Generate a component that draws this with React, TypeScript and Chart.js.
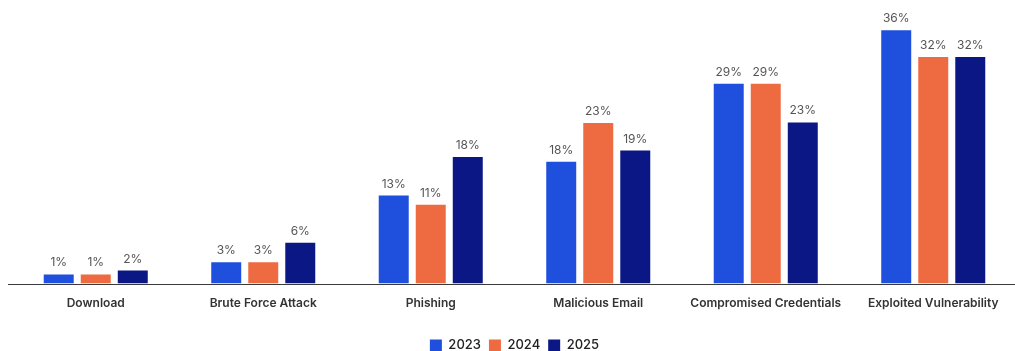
import React, { useEffect, useRef } from "react";
import { Chart, registerables } from "chart.js";

Chart.register(...registerables);

const categories = [
  "Download",
  "Brute Force Attack",
  "Phishing",
  "Malicious Email",
  "Compromised Credentials",
  "Exploited Vulnerability",
];
const seriesNames = ["2023", "2024", "2025"];
// bar heights (percent)
const values2023 = [1.3, 3.05, 12.5, 17.3, 28.4, 36];
const values2024 = [1.3, 3.05, 11.2, 22.8, 28.4, 32.2];
const values2025 = [1.85, 5.8, 18, 18.9, 22.9, 32.2];
// printed labels above the bars
const labels2023 = ["1%", "3%", "13%", "18%", "29%", "36%"];
const labels2024 = ["1%", "3%", "11%", "23%", "29%", "32%"];
const labels2025 = ["2%", "6%", "18%", "19%", "23%", "32%"];
const seriesColors = ["#1f4fdd", "#ee6a40", "#0b1784"];

const FONT = "Inter, 'Noto Sans', sans-serif";
const printedLabels = [labels2023, labels2024, labels2025];

const valueLabels = {
  id: "valueLabels",
  afterDatasetsDraw(chart: any) {
    const ctx = chart.ctx;
    ctx.save();
    ctx.font = `400 12px ${FONT}`;
    ctx.fillStyle = "#555555";
    ctx.textAlign = "center";
    ctx.textBaseline = "alphabetic";
    chart.data.datasets.forEach((_ds: any, i: number) => {
      const meta = chart.getDatasetMeta(i);
      meta.data.forEach((bar: any, j: number) => {
        ctx.fillText(printedLabels[i][j], bar.x, bar.y - 8);
      });
    });
    ctx.restore();
  },
};

const axisLine = {
  id: "axisLine",
  afterDatasetsDraw(chart: any) {
    const ctx = chart.ctx;
    const y = chart.scales.y.getPixelForValue(0);
    ctx.save();
    ctx.strokeStyle = "#3a3a3a";
    ctx.lineWidth = 1;
    ctx.beginPath();
    ctx.moveTo(8, Math.round(y) + 0.5);
    ctx.lineTo(chart.width, Math.round(y) + 0.5);
    ctx.stroke();
    ctx.restore();
  },
};

export default function App() {
  const ref = useRef<HTMLCanvasElement | null>(null);
  useEffect(() => {
    document.body.style.margin = "0";
    const canvas = ref.current!;
    const chart = new Chart(canvas, {
      type: "bar",
      data: {
        labels: categories,
        datasets: [values2023, values2024, values2025].map((d, i) => ({
          label: seriesNames[i],
          data: d,
          backgroundColor: seriesColors[i],
          categoryPercentage: 0.663,
          barPercentage: 0.81,
        })),
      },
      options: {
        responsive: false,
        animation: false,
        devicePixelRatio: 1,
        layout: { padding: { left: 12, right: 13, top: 2, bottom: -11 } },
        plugins: {
          legend: {
            position: "bottom",
            labels: {
              boxWidth: 12,
              boxHeight: 12,
              padding: 8,
              color: "#222",
              font: { family: FONT, size: 13, weight: 500 },
            },
          },
          tooltip: { enabled: false },
        },
        scales: {
          x: {
            grid: { display: false, drawTicks: false },
            border: { display: false },
            ticks: {
              color: "#333",
              padding: 13,
              font: { family: FONT, size: 12, weight: 600 },
            },
            afterFit: (scale: any) => {
              scale.height += 7;
            },
          },
          y: {
            display: false,
            min: 0,
            max: 40,
          },
        },
      },
      plugins: [valueLabels, axisLine],
    });
    return () => chart.destroy();
  }, []);
  return (
    <div style={{ width: 1015, height: 351, overflow: "hidden", position: "relative", background: "#fff" }}>
      <canvas ref={ref} width={1030} height={351} style={{ display: "block" }} />
    </div>
  );
}
